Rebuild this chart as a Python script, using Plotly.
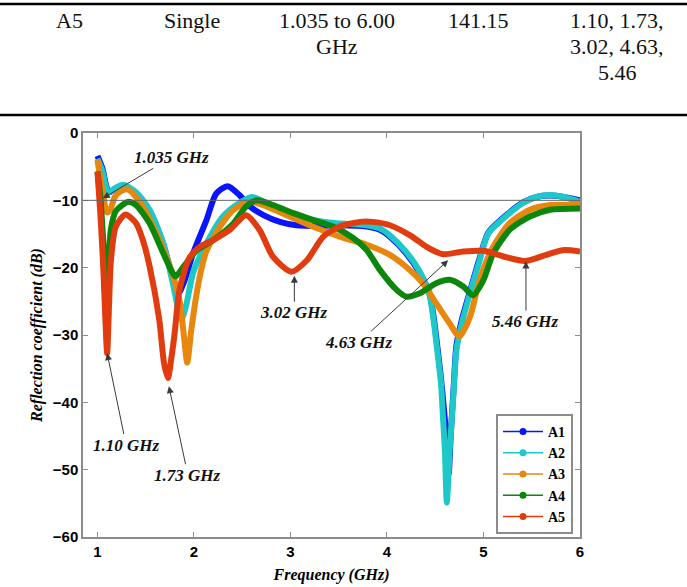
import plotly.graph_objects as go

# ---------------- data ----------------
series_names = ["A1", "A2", "A3", "A4", "A5"]
series_colors = ["#0a14ff", "#1ec8c8", "#e8870e", "#0b870b", "#e03c0f"]

a1_f = [1.00, 1.05, 1.10, 1.13, 1.18, 1.27, 1.40, 1.54, 1.68, 1.78, 1.84, 1.90, 1.99, 2.13, 2.23, 2.35,
        2.47, 2.58, 2.72, 2.89, 3.06, 3.30, 3.51, 3.79, 3.93, 4.03, 4.20, 4.34, 4.44, 4.48, 4.52, 4.56,
        4.59, 4.62, 4.64, 4.66, 4.69, 4.72, 4.78, 4.86, 4.96, 5.05, 5.27, 5.41, 5.55, 5.69, 5.83, 6.00]
a1_db = [-3.4, -5.2, -8.3, -8.8, -8.3, -7.9, -9.0, -11.6, -16.5, -21.5, -23.8, -22.0, -17.9, -12.9, -9.0, -7.9,
         -9.2, -10.9, -12.2, -13.2, -13.7, -13.8, -13.7, -13.9, -14.4, -15.4, -17.9, -20.8, -23.8, -27.0, -31.5, -36.5,
         -41.0, -46.0, -50.6, -45.0, -38.0, -31.5, -27.5, -23.5, -18.6, -14.8, -11.8, -10.3, -9.5, -9.3, -9.5, -10.0]

a2_f = [1.00, 1.05, 1.10, 1.13, 1.18, 1.27, 1.40, 1.54, 1.68, 1.78, 1.87, 1.92, 1.99, 2.09, 2.30, 2.47,
        2.60, 2.75, 2.99, 3.23, 3.48, 3.79, 3.93, 4.03, 4.20, 4.34, 4.44, 4.48, 4.52, 4.56, 4.58, 4.60,
        4.62, 4.65, 4.685, 4.72, 4.78, 4.86, 4.96, 5.05, 5.27, 5.41, 5.55, 5.69, 5.83, 6.00]
a2_db = [-3.8, -5.6, -8.5, -8.8, -8.2, -7.7, -8.8, -11.4, -16.3, -22.3, -27.7, -25.5, -20.8, -17.5, -12.4, -10.4,
         -9.5, -10.4, -11.9, -12.9, -13.4, -13.7, -14.2, -15.2, -17.7, -20.6, -24.0, -27.5, -32.2, -37.2, -42.2, -47.1,
         -54.9, -47.0, -39.7, -32.2, -28.0, -23.8, -18.9, -14.9, -11.9, -10.4, -9.5, -9.2, -9.5, -10.2]

a3_f = [1.00, 1.05, 1.10, 1.13, 1.18, 1.25, 1.32, 1.45, 1.61, 1.75, 1.85, 1.90, 1.93, 1.97, 2.02, 2.08,
        2.13, 2.27, 2.41, 2.58, 2.75, 2.99, 3.23, 3.51, 3.79, 4.03, 4.20, 4.37, 4.51, 4.65, 4.75, 4.86,
        4.96, 5.10, 5.27, 5.48, 5.69, 6.00]
a3_db = [-4.0, -8.5, -11.8, -11.5, -9.5, -8.6, -8.4, -10.5, -14.9, -19.8, -24.8, -30.7, -34.1, -29.5, -24.5, -20.0,
         -17.5, -13.9, -11.4, -10.2, -10.9, -12.4, -13.9, -15.4, -16.6, -18.1, -19.9, -22.3, -25.3, -28.3, -30.2, -27.3,
         -21.8, -16.9, -13.4, -11.4, -10.7, -10.7]

a4_f = [1.00, 1.03, 1.06, 1.085, 1.10, 1.12, 1.14, 1.19, 1.32, 1.40, 1.54, 1.68, 1.78, 1.81, 1.89, 2.03,
        2.20, 2.41, 2.54, 2.65, 2.82, 3.03, 3.23, 3.44, 3.65, 3.79, 3.93, 4.10, 4.20, 4.34, 4.51, 4.65,
        4.79, 4.89, 5.00, 5.10, 5.27, 5.48, 5.69, 6.00]
a4_db = [-5.7, -9.5, -16.0, -21.0, -22.5, -18.0, -14.2, -11.6, -10.2, -10.7, -13.4, -17.8, -20.8, -21.3, -19.9, -17.4,
         -15.9, -13.4, -10.9, -10.0, -10.7, -11.9, -12.9, -13.9, -15.6, -17.4, -20.4, -23.3, -24.3, -23.8, -22.3, -21.8,
         -22.8, -24.1, -21.8, -17.9, -14.4, -12.4, -11.4, -11.2]

a5_f = [1.00, 1.03, 1.06, 1.08, 1.10, 1.12, 1.14, 1.19, 1.29, 1.40, 1.47, 1.54, 1.64, 1.69, 1.73, 1.77,
        1.80, 1.85, 1.95, 2.06, 2.20, 2.37, 2.54, 2.68, 2.82, 3.01, 3.17, 3.34, 3.51, 3.72, 3.85, 4.03,
        4.24, 4.41, 4.58, 4.79, 5.00, 5.20, 5.43, 5.65, 5.82, 6.00]
a5_db = [-5.8, -12.0, -20.0, -27.0, -32.7, -25.5, -18.8, -13.9, -12.1, -13.4, -15.9, -19.8, -27.7, -34.2, -36.4, -33.0,
         -29.7, -23.3, -18.6, -16.9, -15.9, -14.4, -12.2, -14.4, -18.4, -20.6, -18.9, -15.4, -13.9, -13.2, -13.2, -13.7,
         -15.2, -16.9, -18.0, -17.6, -17.5, -18.3, -19.0, -18.1, -17.4, -17.6]

series_f = [a1_f, a2_f, a3_f, a4_f, a5_f]
series_db = [a1_db, a2_db, a3_db, a4_db, a5_db]

threshold_db = -10
x_ticks = [1, 2, 3, 4, 5, 6]
y_ticks = [0, -10, -20, -30, -40, -50, -60]

# resonance labels
res_labels = ["1.035 GHz", "1.10 GHz", "1.73 GHz", "3.02 GHz", "4.63 GHz", "5.46 GHz"]
res_f = [1.055, 1.10, 1.74, 3.04, 4.634, 5.44]
res_db = [-9.7, -32.7, -37.6, -21.2, -18.9, -19.1]

# table row above the chart (one list of text lines per cell)
table_cells = [["A5"], ["Single"], ["1.035 to 6.00", "GHz"], ["141.15"],
               ["1.10, 1.73,", "3.02, 4.63,", "5.46"]]

# ---------------- layout geometry ----------------
W, H = 687, 587
L, R, T, B = 83, 580, 133, 537


def px_x(px):
    return (px - L) / (R - L)


def px_y(py):
    return (B - py) / (B - T)


fig = go.Figure()

for name, col, f, db in zip(series_names, series_colors, series_f, series_db):
    fig.add_trace(go.Scatter(x=f, y=db, mode="lines", name=name, showlegend=False,
                             line=dict(color=col, width=6, shape="spline", smoothing=0.7)))

# legend entries (thin line + dot, as in the reference legend)
for name, col in zip(series_names, series_colors):
    fig.add_trace(go.Scatter(x=[None], y=[None], mode="lines+markers", name=name,
                             line=dict(color=col, width=1.5), marker=dict(color=col, size=7)))

fig.add_shape(type="line", xref="x", yref="y", x0=0.85, x1=6, y0=threshold_db, y1=threshold_db,
              line=dict(color="#666666", width=1))

# annotation arrows
offsets = [(69, -41), (19, 92), (19, 89), (0, 37), (-89, 82), (0, 60)]
for lab, f, db, (ax, ay) in zip(res_labels, res_f, res_db, offsets):
    fig.add_annotation(x=f, y=db, xref="x", yref="y", text=lab, showarrow=True,
                       ax=ax, ay=ay, arrowhead=2, arrowsize=1.4, arrowwidth=1,
                       arrowcolor="#3a3a3a", standoff=0,
                       font=dict(family="Liberation Serif", size=17, color="#111",
                                 weight="bold", style="italic"))

# table text
cell_px = [69, 192, 337, 478, 617]
row_px = [21, 46, 72]
for lines, cx in zip(table_cells, cell_px):
    for txt, cy in zip(lines, row_px):
        fig.add_annotation(x=px_x(cx), y=px_y(cy), xref="paper", yref="paper", text=txt,
                           showarrow=False, xanchor="center", yanchor="middle",
                           font=dict(family="Liberation Serif", size=22, color="#111"))

for ly in [4, 115]:
    fig.add_shape(type="line", xref="paper", yref="paper", x0=px_x(0), x1=px_x(W),
                  y0=px_y(ly), y1=px_y(ly), line=dict(color="black", width=2.5))

axis_common = dict(showline=True, linecolor="#8c8c8c", linewidth=1.5, mirror="ticks",
                   ticks="inside", ticklen=5, tickcolor="#8c8c8c", showgrid=False, zeroline=False,
                   automargin=False,
                   tickfont=dict(family="Liberation Sans", size=15, color="black", weight="bold"))

fig.update_xaxes(range=[0.85, 6], tickvals=x_ticks, **axis_common,
                 title=dict(text="Frequency (GHz)", standoff=10,
                            font=dict(family="Liberation Serif", size=16, color="black",
                                      weight="bold", style="italic")))
fig.update_yaxes(range=[-60, 0], tickvals=y_ticks, **axis_common,
                 title=dict(text="Reflection coefficient (dB)", standoff=6,
                            font=dict(family="Liberation Serif", size=16, color="black",
                                      weight="bold", style="italic")))

fig.update_layout(
    width=W, height=H, autosize=False,
    margin=dict(l=L, r=W - R, t=T, b=H - B, autoexpand=False),
    paper_bgcolor="white", plot_bgcolor="white",
    legend=dict(x=px_x(573), y=px_y(534), xanchor="right", yanchor="bottom",
                bgcolor="white", bordercolor="#8c8c8c", borderwidth=2, itemwidth=40,
                font=dict(family="Liberation Serif", size=14, color="black", weight="bold"),
                tracegroupgap=0),
)

fig.write_html("out.html", config={"displayModeBar": False},
               post_script="document.body.style.margin='0';document.body.style.overflow='hidden';")
